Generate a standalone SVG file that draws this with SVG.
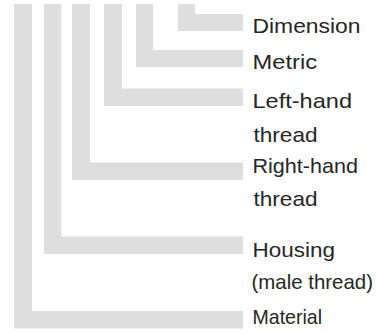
<svg xmlns="http://www.w3.org/2000/svg" width="376" height="333" viewBox="0 0 376 333">
  <style>
    .bar { fill: #dedede; }
    .lbl { font-family: "Liberation Sans", Arial, Helvetica, sans-serif; font-size: 21px; fill: #262626; }
  </style>
  <rect width="376" height="333" fill="#ffffff"/>
  <g id="connectors">
    <path class="bar" d="M178,4 H195 V14 H243 V31 H178 Z"/>
    <path class="bar" d="M136,4 H153 V50 H243 V67 H136 Z"/>
    <path class="bar" d="M104,4 H122 V88.5 H243 V106 H104 Z"/>
    <path class="bar" d="M72,4 H90 V162.5 H243 V180 H72 Z"/>
    <path class="bar" d="M44,4 H61.5 V236.5 H243 V254 H44 Z"/>
    <path class="bar" d="M14,4 H32 V311 H243 V328.5 H14 Z"/>
  </g>
  <g id="node-dimension">
    <text class="lbl" x="252.5" y="33.3" textLength="108" lengthAdjust="spacingAndGlyphs">Dimension</text>
  </g>
  <g id="node-metric">
    <text class="lbl" x="252.5" y="69" textLength="64.5" lengthAdjust="spacingAndGlyphs">Metric</text>
  </g>
  <g id="node-left-hand">
    <text class="lbl" x="252.5" y="107.7" textLength="99.5" lengthAdjust="spacingAndGlyphs">Left-hand</text>
    <text class="lbl" x="253.5" y="141.7" textLength="64" lengthAdjust="spacingAndGlyphs">thread</text>
  </g>
  <g id="node-right-hand">
    <text class="lbl" x="252.5" y="172.7" textLength="105.5" lengthAdjust="spacingAndGlyphs">Right-hand</text>
    <text class="lbl" x="253.5" y="206" textLength="64" lengthAdjust="spacingAndGlyphs">thread</text>
  </g>
  <g id="node-housing">
    <text class="lbl" x="252.5" y="257.3" textLength="82.5" lengthAdjust="spacingAndGlyphs">Housing</text>
    <text class="lbl" x="251.5" y="289" textLength="121.5" lengthAdjust="spacingAndGlyphs">(male thread)</text>
  </g>
  <g id="node-material">
    <text class="lbl" x="252.5" y="324" textLength="69.5" lengthAdjust="spacingAndGlyphs">Material</text>
  </g>
</svg>
